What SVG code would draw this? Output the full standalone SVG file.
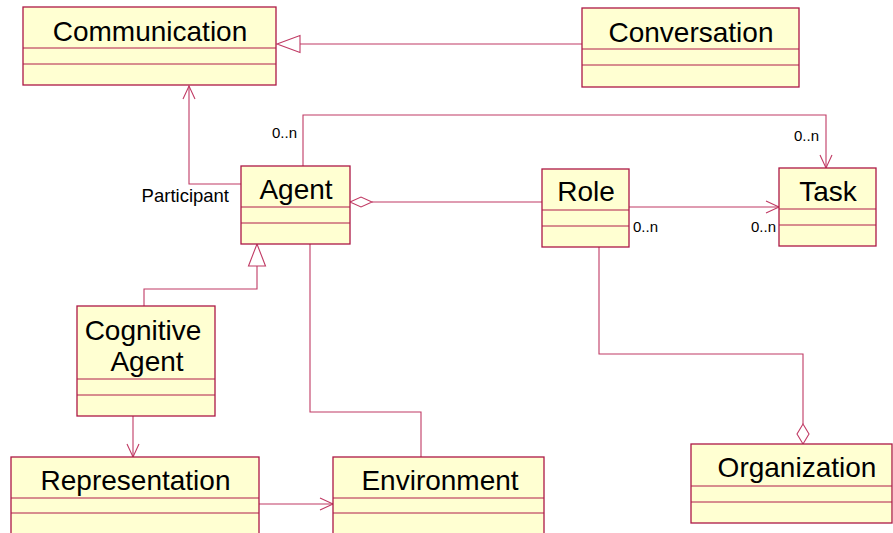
<svg xmlns="http://www.w3.org/2000/svg" width="893" height="533" viewBox="0 0 893 533">
<style>
.box{fill:#ffffd2;stroke:#ad1846;stroke-width:1.3}
.sep{stroke:#b01c4a;stroke-width:1;fill:none}
.t{font-family:"Liberation Sans",Arial,sans-serif;font-size:28px;fill:#000;text-anchor:middle}
.lbl{font-family:"Liberation Sans",Arial,sans-serif;font-size:18.5px;fill:#000}
.m{font-family:"Liberation Sans",Arial,sans-serif;font-size:15px;fill:#000}
.c{stroke:#c03a64;stroke-width:1.1;fill:none}
.tri{stroke:#c03a64;stroke-width:1.1;fill:#fff}
</style>
<rect width="893" height="533" fill="#fff"/>
<g id="connectors">
<line class="c" x1="582" y1="44" x2="300" y2="44"/>
<polygon class="tri" points="277,44 300,35.5 300,52.5"/>
<polyline class="c" points="241,184 189,184 189,86"/>
<polyline class="c" points="183,99 189,86 195,99"/>
<polyline class="c" points="303,166 303,115 826,115 826,168"/>
<polyline class="c" points="820,155 826,168 832,155"/>
<line class="c" x1="372" y1="202" x2="542" y2="202"/>
<polygon class="tri" points="350,202 361,197 372,202 361,207"/>
<line class="c" x1="629" y1="207" x2="779" y2="207"/>
<polyline class="c" points="766,201 779,207 766,213"/>
<polyline class="c" points="144,306 144,289 257,289 257,266"/>
<polygon class="tri" points="257,244 248.5,266 265.5,266"/>
<polyline class="c" points="310,244 310,412 421,412 421,457"/>
<line class="c" x1="133" y1="416" x2="133" y2="457"/>
<polyline class="c" points="127,444 133,457 139,444"/>
<line class="c" x1="259" y1="504" x2="333" y2="504"/>
<polyline class="c" points="320,498 333,504 320,510"/>
<polyline class="c" points="599,247 599,354 803,354 803,424"/>
<polygon class="tri" points="803,424 797,434 803,444 809,434"/>
</g>
<g id="communication">
<rect class="box" x="23" y="7" width="253" height="78"/>
<line class="sep" x1="23" y1="48" x2="276" y2="48"/>
<line class="sep" x1="23" y1="64" x2="276" y2="64"/>
<text class="t" x="150" y="41">Communication</text>
</g>
<g id="conversation">
<rect class="box" x="582" y="8" width="217" height="79"/>
<line class="sep" x1="582" y1="49" x2="799" y2="49"/>
<line class="sep" x1="582" y1="65" x2="799" y2="65"/>
<text class="t" x="691" y="42">Conversation</text>
</g>
<g id="agent">
<rect class="box" x="241" y="166" width="109" height="78"/>
<line class="sep" x1="241" y1="207" x2="350" y2="207"/>
<line class="sep" x1="241" y1="223" x2="350" y2="223"/>
<text class="t" x="296" y="199">Agent</text>
</g>
<g id="role">
<rect class="box" x="542" y="169" width="87" height="78"/>
<line class="sep" x1="542" y1="210" x2="629" y2="210"/>
<line class="sep" x1="542" y1="226" x2="629" y2="226"/>
<text class="t" x="586" y="201">Role</text>
</g>
<g id="task">
<rect class="box" x="779" y="168" width="97" height="78"/>
<line class="sep" x1="779" y1="209" x2="876" y2="209"/>
<line class="sep" x1="779" y1="225" x2="876" y2="225"/>
<text class="t" x="828" y="201">Task</text>
</g>
<g id="cognitive-agent">
<rect class="box" x="77" y="306" width="138" height="110"/>
<line class="sep" x1="77" y1="379" x2="215" y2="379"/>
<line class="sep" x1="77" y1="395" x2="215" y2="395"/>
<text class="t" x="143" y="340">Cognitive</text>
<text class="t" x="147" y="371">Agent</text>
</g>
<g id="representation">
<rect class="box" x="11" y="457" width="248" height="90"/>
<line class="sep" x1="11" y1="498" x2="259" y2="498"/>
<line class="sep" x1="11" y1="513" x2="259" y2="513"/>
<text class="t" x="135.5" y="490">Representation</text>
</g>
<g id="environment">
<rect class="box" x="333" y="457" width="211" height="90"/>
<line class="sep" x1="333" y1="498" x2="544" y2="498"/>
<line class="sep" x1="333" y1="513" x2="544" y2="513"/>
<text class="t" x="440" y="490">Environment</text>
</g>
<g id="organization">
<rect class="box" x="691" y="444" width="201" height="79"/>
<line class="sep" x1="691" y1="486" x2="892" y2="486"/>
<line class="sep" x1="691" y1="502" x2="892" y2="502"/>
<text class="t" x="797" y="477">Organization</text>
</g>
<g id="labels">
<text class="lbl" x="229" y="202" text-anchor="end">Participant</text>
<text class="m" x="297" y="138" text-anchor="end">0..n</text>
<text class="m" x="819" y="141" text-anchor="end">0..n</text>
<text class="m" x="633" y="232">0..n</text>
<text class="m" x="776" y="232" text-anchor="end">0..n</text>
</g>
</svg>
